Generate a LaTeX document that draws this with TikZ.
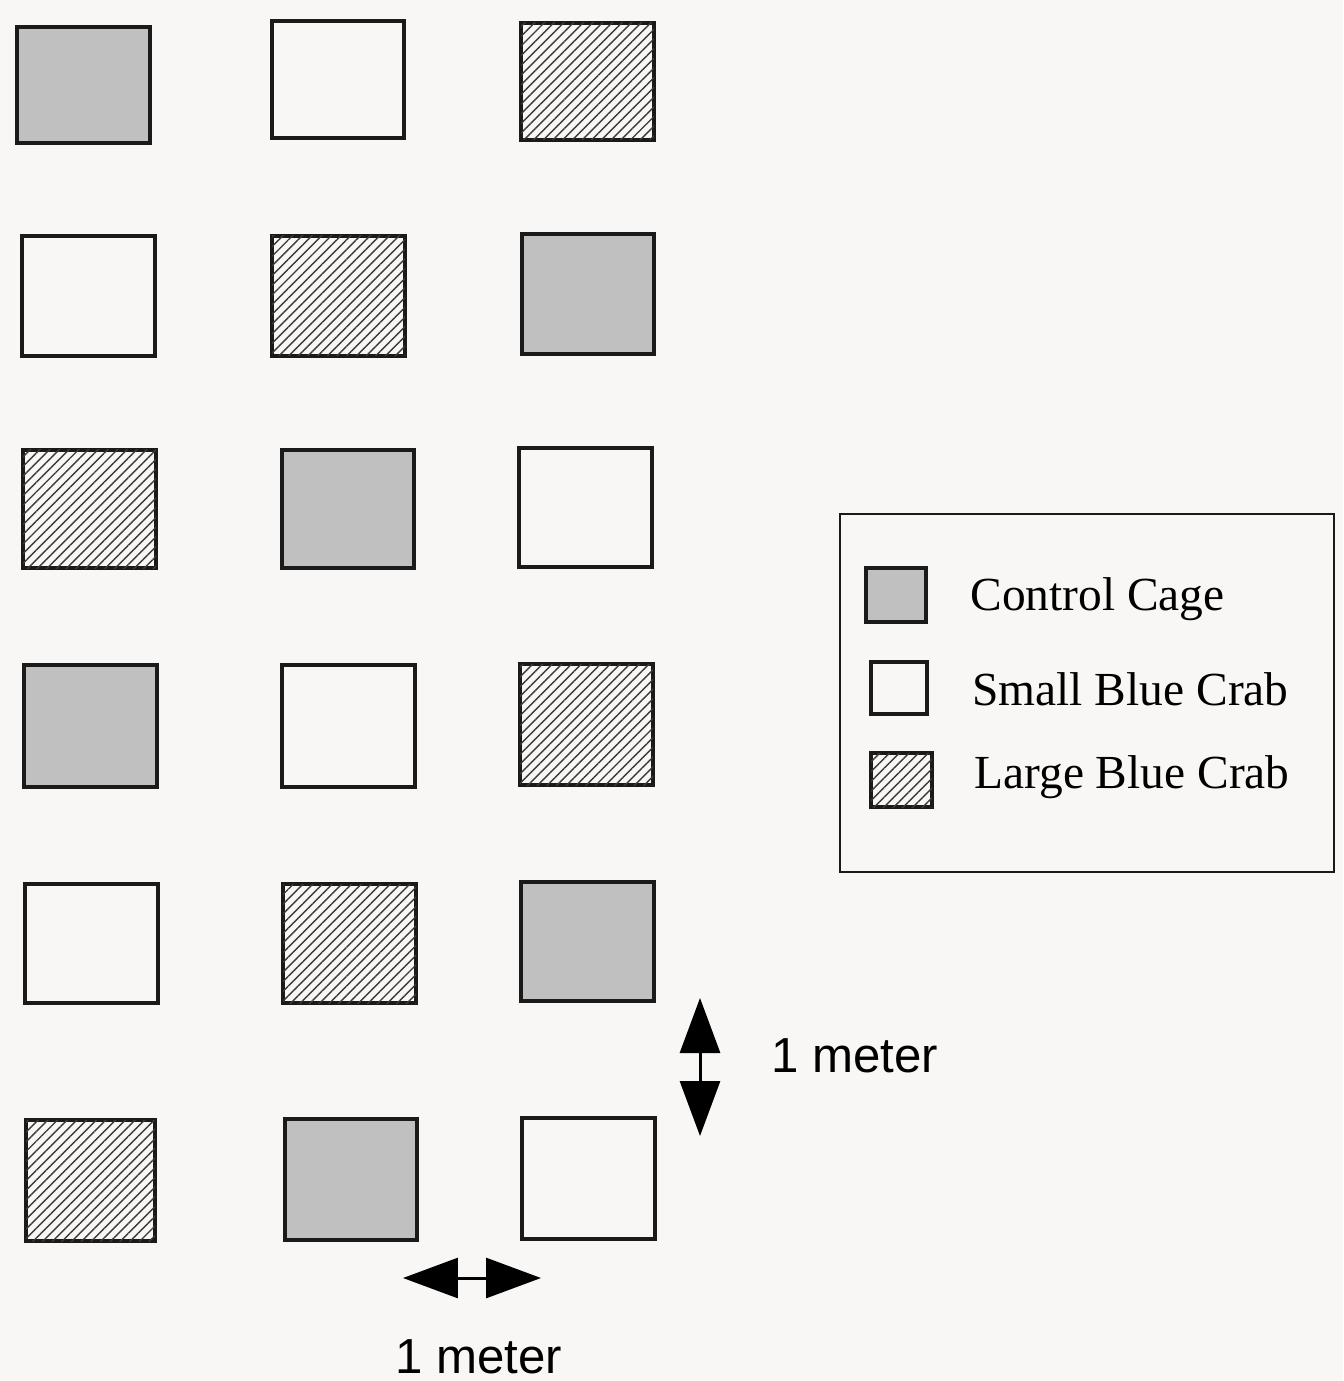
\documentclass[tikz,border=0pt]{standalone}
\usepackage{fontspec}
\setmainfont{Liberation Serif}
\setsansfont{Liberation Sans}
\usetikzlibrary{arrows.meta,patterns.meta}
\definecolor{paper}{HTML}{F8F7F5}
\definecolor{cagegray}{HTML}{C0C0C0}
\definecolor{ink}{HTML}{1A1A1A}
\definecolor{hatchink}{HTML}{3A3A3A}
\tikzset{
  cagebox/.style={draw=ink,line width=1.8pt,inner sep=0pt,outer sep=0pt,fill=paper},
  ctrl/.style={fill=cagegray},
  small/.style={fill=paper},
  large/.style={fill=paper,postaction={pattern={Lines[angle=45,distance=3.9pt,line width=0.8pt]},pattern color=hatchink}},
  legendbox/.style={draw=ink,line width=1.4pt,fill=paper,inner sep=0pt},
  legendtext/.style={anchor=base west,inner sep=0pt,font=\fontsize{27}{30}\selectfont},
  scaletext/.style={anchor=base west,inner sep=0pt,font=\sffamily\fontsize{28}{32}\selectfont},
  scalearrow/.style={line width=1.7pt,{Triangle[length=1.1cm,width=0.8cm]}-{Triangle[length=1.1cm,width=0.8cm]}}
}
% a cage: style, name, left, top, right, bottom (pixel grid, y downward)
\newcommand\cage[6]{%
  \node[cagebox,#1,minimum width={(#5-#3)*0.02cm},minimum height={(#6-#4)*0.02cm}]
    (#2) at ({(#3+#5)/2},{(#4+#6)/2}) {};}
\begin{document}
\begin{tikzpicture}[x=0.02cm,y=-0.02cm]
\fill[paper] (0,0) rectangle (1343,1381);
\useasboundingbox (0,0) rectangle (1343,1381);

% row 1
\cage{ctrl}{c11}{17}{27}{150}{143}
\cage{small}{c12}{272}{21}{404}{138}
\cage{large}{c13}{521}{23}{654}{140}
% row 2
\cage{small}{c21}{22}{236}{155}{356}
\cage{large}{c22}{272}{236}{405}{356}
\cage{ctrl}{c23}{522}{234}{654}{354}
% row 3
\cage{large}{c31}{23}{450}{156}{568}
\cage{ctrl}{c32}{282}{450}{414}{568}
\cage{small}{c33}{519}{448}{652}{567}
% row 4
\cage{ctrl}{c41}{24}{665}{157}{787}
\cage{small}{c42}{282}{665}{415}{787}
\cage{large}{c43}{520}{664}{653}{785}
% row 5
\cage{small}{c51}{25}{884}{158}{1003}
\cage{large}{c52}{283}{884}{416}{1003}
\cage{ctrl}{c53}{521}{882}{654}{1001}
% row 6
\cage{large}{c61}{26}{1120}{155}{1241}
\cage{ctrl}{c62}{285}{1119}{417}{1240}
\cage{small}{c63}{522}{1118}{655}{1239}

% legend
\node[legendbox,minimum width={494*0.02cm},minimum height={358*0.02cm}] (legend) at (1087,693) {};
\cage{ctrl}{keyctrl}{866}{568}{926}{622}
\cage{small}{keysmall}{871}{662}{927}{714}
\cage{large}{keylarge}{871}{753}{932}{807}
\node[legendtext] (tctrl) at (970,610) {Control Cage};
\node[legendtext] (tsmall) at (972,705) {Small Blue Crab};
\node[legendtext] (tlarge) at (974,788) {Large Blue Crab};

% scale bars
\coordinate (vtop) at (700,998);
\coordinate (vbot) at (700,1136);
\draw[scalearrow] (vtop) -- (vbot);
\node[scaletext] (vlabel) at (771,1072) {1 meter};

\coordinate (hleft) at (403,1278);
\coordinate (hright) at (541,1278);
\draw[scalearrow] (hleft) -- (hright);
\node[scaletext] (hlabel) at (395,1373) {1 meter};
\end{tikzpicture}
\end{document}
